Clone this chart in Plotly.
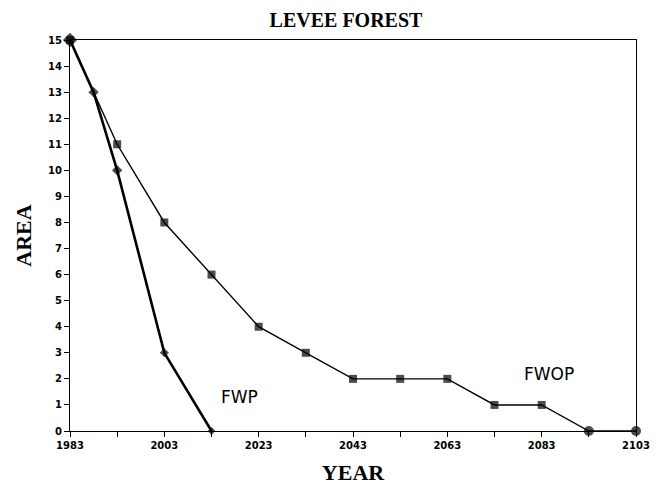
import plotly.graph_objects as go

# FWOP = future without project, FWP = future with project
fwop_year = [1983, 1993, 2003, 2013, 2023, 2033, 2043, 2053, 2063, 2073, 2083, 2093, 2103]
fwop_area = [15, 11, 8, 6, 4, 3, 2, 2, 2, 1, 1, 0, 0]

fwp_year = [1983, 1988, 1993, 2003, 2013]
fwp_area = [15, 13, 10, 3, 0]

x_ticks = [1983, 2003, 2023, 2043, 2063, 2083, 2103]
y_ticks = list(range(0, 16))

fig = go.Figure()

fop_sym = ["square"] * (len(fwop_year) - 2) + ["circle", "circle"]
fop_size = [8] * (len(fwop_year) - 2) + [10, 10]

fig.add_trace(go.Scatter(
    x=fwop_year, y=fwop_area, mode="lines+markers", name="FWOP",
    line=dict(color="black", width=1.4),
    marker=dict(symbol=fop_sym, size=fop_size, color="black", line=dict(color="black", width=0)),
))
fig.add_trace(go.Scatter(
    x=fwp_year, y=fwp_area, mode="lines+markers", name="FWP",
    line=dict(color="black", width=2.6),
    marker=dict(symbol="diamond", size=[11, 8, 8, 7, 6], color="black", line=dict(color="black", width=0)),
))

fig.add_annotation(x=2019, y=1.3, text="FWP", showarrow=False,
                   font=dict(family="DejaVu Sans", size=17, color="black"))
fig.add_annotation(x=2084.5, y=2.2, text="FWOP", showarrow=False,
                   font=dict(family="DejaVu Sans", size=17, color="black"))

tick_font = dict(family="DejaVu Sans", size=10, color="black", weight="bold")

# page body has an 8px margin, so the figure is sized to fit the window
fig.update_layout(
    width=650, height=478,
    margin=dict(l=62, r=22, t=32, b=55),
    paper_bgcolor="white", plot_bgcolor="white",
    showlegend=False,
    title=dict(text="<b>LEVEE FOREST</b>", x=0.52, xanchor="center", y=0.99, yanchor="top",
               font=dict(family="Liberation Serif", size=20, color="black")),
    xaxis=dict(
        range=[1983, 2103], tickvals=x_ticks, ticktext=[str(v) for v in x_ticks],
        showgrid=False, zeroline=False, showline=True, linecolor="black", linewidth=1.3,
        mirror=True, ticks="outside", ticklen=5, tickcolor="black", automargin=False,
        minor=dict(tickvals=list(range(1993, 2103, 20)), ticks="outside", ticklen=5, tickcolor="black"),
        tickfont=tick_font,
        title=dict(text="<b>YEAR</b>", standoff=14,
                   font=dict(family="Liberation Serif", size=22, color="black")),
    ),
    yaxis=dict(
        range=[0, 15], tickvals=y_ticks,
        showgrid=False, zeroline=False, showline=True, linecolor="black", linewidth=1.3,
        mirror=True, ticks="outside", ticklen=5, tickcolor="black", automargin=False,
        tickfont=tick_font,
        title=dict(text="<b>AREA</b>", standoff=10,
                   font=dict(family="Liberation Serif", size=22, color="black")),
    ),
)

for tr in fig.data:
    tr.cliponaxis = False

fig.write_html("out.html")
